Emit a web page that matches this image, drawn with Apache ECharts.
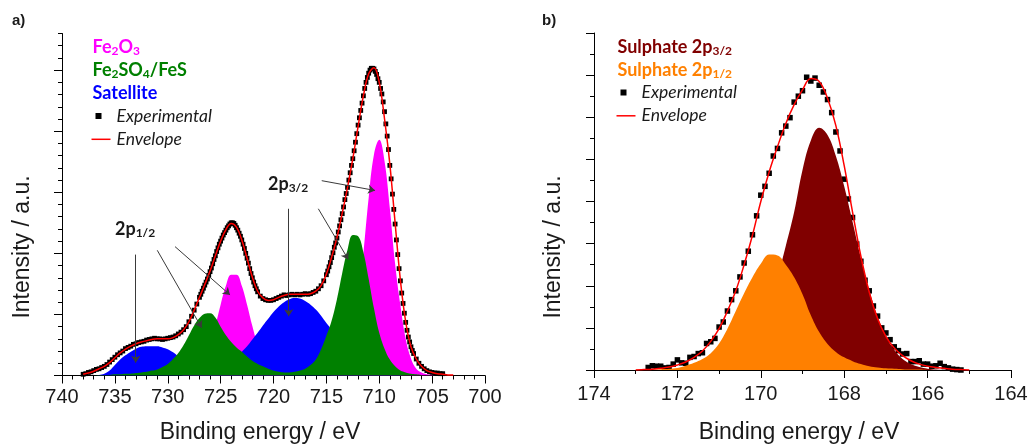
<!DOCTYPE html>
<html>
<head>
<meta charset="utf-8">
<script src="https://cdn.jsdelivr.net/npm/echarts@6.0.0/dist/echarts.min.js"></script>
<style>
    html, body { margin: 0; padding: 0; background: #fff; }
    #chart { width: 1033px; height: 444px; }
</style>
</head>
<body>
<div id="chart"></div>
<script>
    // ---- panel a: Fe 2p, fitted components on a 0.5 eV grid ----
    const energyA = [
        738, 737.5, 737, 736.5, 736, 735.5, 735, 734.5, 734, 733.5,
        733, 732.5, 732, 731.5, 731, 730.5, 730, 729.5, 729, 728.5,
        728, 727.5, 727, 726.5, 726, 725.5, 725, 724.5, 724, 723.5,
        723, 722.5, 722, 721.5, 721, 720.5, 720, 719.5, 719, 718.5,
        718, 717.5, 717, 716.5, 716, 715.5, 715, 714.5, 714, 713.5,
        713, 712.5, 712, 711.5, 711, 710.5, 710, 709.5, 709, 708.5,
        708, 707.5, 707, 706.5, 706, 705.5, 705, 704.5, 704, 703.5,
        703
    ];
    const fe2o3A = [
        0, 0, 0, 0, 0, 0, 0, 0, 0, 0,
        0, 0, 0, 0, 0, 0, 0, 0, 0, 0.01,
        0.02, 0.06, 0.14, 0.28, 0.50, 0.81, 1.16, 1.47, 1.65, 1.65,
        1.47, 1.16, 0.81, 0.50, 0.28, 0.14, 0.07, 0.03, 0.01, 0,
        0, 0, 0, 0, 0, 0, 0, 0.01, 0.03, 0.09,
        0.25, 0.59, 1.18, 2.00, 2.91, 3.62, 3.86, 3.51, 2.74, 1.83,
        1.15, 0.60, 0.28, 0.11, 0.05, 0.02, 0.01, 0, 0, 0,
        0
    ];
    const satelliteA = [
        0, 0, 0, 0.01, 0.03, 0.08, 0.17, 0.26, 0.33, 0.39,
        0.44, 0.47, 0.48, 0.48, 0.48, 0.46, 0.43, 0.38, 0.31, 0.23,
        0.16, 0.12, 0.09, 0.07, 0.07, 0.09, 0.13, 0.17, 0.23, 0.30,
        0.39, 0.48, 0.59, 0.70, 0.82, 0.93, 1.04, 1.13, 1.20, 1.25,
        1.27, 1.26, 1.22, 1.16, 1.08, 0.98, 0.86, 0.75, 0.63, 0.52,
        0.42, 0.33, 0.25, 0.19, 0.14, 0.10, 0.07, 0.05, 0.03, 0.02,
        0.01, 0, 0, 0, 0, 0, 0, 0, 0, 0,
        0
    ];
    const fe2so4A = [
        0, 0, 0, 0.01, 0.01, 0.01, 0.02, 0.02, 0.03, 0.03,
        0.04, 0.05, 0.06, 0.08, 0.10, 0.14, 0.19, 0.27, 0.37, 0.50,
        0.66, 0.82, 0.94, 1.01, 1.02, 0.95, 0.80, 0.66, 0.55, 0.46,
        0.39, 0.31, 0.24, 0.19, 0.15, 0.11, 0.08, 0.06, 0.05, 0.05,
        0.06, 0.08, 0.11, 0.17, 0.26, 0.43, 0.65, 0.90, 1.25, 1.68,
        2.06, 2.30, 2.28, 2.02, 1.58, 1.10, 0.70, 0.44, 0.26, 0.15,
        0.08, 0.05, 0.03, 0.02, 0.01, 0, 0, 0, 0, 0,
        0
    ];
    const envelopeA = [
        0.02, 0.04, 0.07, 0.11, 0.15, 0.21, 0.29, 0.37, 0.43, 0.48,
        0.52, 0.55, 0.57, 0.59, 0.60, 0.60, 0.60, 0.62, 0.67, 0.75,
        0.88, 1.07, 1.28, 1.49, 1.71, 1.96, 2.20, 2.39, 2.49, 2.43,
        2.22, 1.92, 1.61, 1.38, 1.27, 1.23, 1.24, 1.28, 1.31, 1.33,
        1.33, 1.33, 1.33, 1.34, 1.38, 1.47, 1.66, 1.94, 2.26, 2.66,
        3.08, 3.55, 4.08, 4.58, 4.94, 5.04, 4.80, 4.20, 3.46, 2.50,
        1.56, 0.88, 0.47, 0.27, 0.15, 0.08, 0.05, 0.03, 0.02, 0.01,
        0.01
    ];
    // measured points [binding energy, intensity]
    const experimentalA = [
        [738.00, 0.02], [737.75, 0.03], [737.50, 0.05], [737.25, 0.06], [737.00, 0.08],
        [736.75, 0.10], [736.50, 0.11], [736.25, 0.13], [736.00, 0.15], [735.75, 0.18],
        [735.50, 0.22], [735.25, 0.26], [735.00, 0.30], [734.75, 0.34], [734.50, 0.37],
        [734.25, 0.40], [734.00, 0.44], [733.75, 0.46], [733.50, 0.48], [733.25, 0.51],
        [733.00, 0.52], [732.75, 0.54], [732.50, 0.55], [732.25, 0.56], [732.00, 0.58],
        [731.75, 0.59], [731.50, 0.60], [731.25, 0.61], [731.00, 0.60], [730.75, 0.60],
        [730.50, 0.59], [730.25, 0.60], [730.00, 0.61], [729.75, 0.62], [729.50, 0.63],
        [729.25, 0.65], [729.00, 0.68], [728.75, 0.71], [728.50, 0.75], [728.25, 0.80],
        [728.00, 0.88], [727.75, 0.97], [727.50, 1.07], [727.25, 1.17], [727.00, 1.28],
        [726.875, 1.33], [726.75, 1.38], [726.625, 1.43], [726.50, 1.48], [726.375, 1.53],
        [726.25, 1.58], [726.125, 1.64], [726.00, 1.70], [725.875, 1.76], [725.75, 1.83],
        [725.625, 1.90], [725.50, 1.96], [725.375, 2.03], [725.25, 2.09], [725.125, 2.15],
        [725.00, 2.20], [724.875, 2.25], [724.75, 2.30], [724.625, 2.34], [724.50, 2.38],
        [724.375, 2.42], [724.25, 2.45], [724.125, 2.48], [724.00, 2.50], [723.875, 2.50],
        [723.75, 2.49], [723.625, 2.46], [723.50, 2.42], [723.375, 2.38], [723.25, 2.33],
        [723.125, 2.28], [723.00, 2.22], [722.875, 2.15], [722.75, 2.08], [722.625, 2.00],
        [722.50, 1.92], [722.375, 1.84], [722.25, 1.75], [722.125, 1.67], [722.00, 1.60],
        [721.875, 1.53], [721.75, 1.47], [721.625, 1.42], [721.50, 1.37], [721.25, 1.30],
        [721.00, 1.26], [720.75, 1.24], [720.50, 1.23], [720.25, 1.23], [720.00, 1.24],
        [719.75, 1.26], [719.50, 1.28], [719.25, 1.30], [719.00, 1.32], [718.75, 1.31],
        [718.50, 1.32], [718.25, 1.33], [718.00, 1.32], [717.75, 1.33], [717.50, 1.32],
        [717.25, 1.33], [717.00, 1.34], [716.75, 1.33], [716.50, 1.34], [716.25, 1.36],
        [716.00, 1.38], [715.75, 1.42], [715.50, 1.47], [715.25, 1.55], [715.00, 1.65],
        [714.875, 1.71], [714.75, 1.78], [714.625, 1.85], [714.50, 1.93], [714.375, 2.01],
        [714.25, 2.10], [714.125, 2.17], [714.00, 2.25], [713.875, 2.35], [713.75, 2.45],
        [713.625, 2.55], [713.50, 2.65], [713.375, 2.76], [713.25, 2.88], [713.125, 2.98],
        [713.00, 3.08], [712.875, 3.20], [712.75, 3.32], [712.625, 3.44], [712.50, 3.55],
        [712.375, 3.68], [712.25, 3.82], [712.125, 3.96], [712.00, 4.10], [711.875, 4.22],
        [711.75, 4.34], [711.625, 4.46], [711.50, 4.58], [711.375, 4.70], [711.25, 4.80],
        [711.125, 4.88], [711.00, 4.95], [710.875, 5.00], [710.75, 5.03], [710.625, 5.03],
        [710.50, 5.02], [710.375, 4.98], [710.25, 4.93], [710.125, 4.86], [710.00, 4.80],
        [709.875, 4.70], [709.75, 4.61], [709.625, 4.48], [709.50, 4.32], [709.375, 4.12],
        [709.25, 3.92], [709.125, 3.70], [709.00, 3.44], [708.875, 3.22], [708.75, 2.97],
        [708.625, 2.72], [708.50, 2.48], [708.375, 2.22], [708.25, 1.98], [708.125, 1.75],
        [708.00, 1.55], [707.875, 1.35], [707.75, 1.18], [707.625, 1.02], [707.50, 0.87],
        [707.375, 0.74], [707.25, 0.63], [707.125, 0.55], [707.00, 0.47], [706.875, 0.41],
        [706.75, 0.36], [706.50, 0.27], [706.25, 0.20], [706.00, 0.15], [705.75, 0.11],
        [705.50, 0.08], [705.25, 0.06], [705.00, 0.05], [704.75, 0.04], [704.50, 0.04],
        [704.25, 0.03], [704.00, 0.03]
    ];
    const yMajorA = [0, 1, 2, 3, 4, 5];
    // arrows from the 2p labels: [fromE, fromI, toE, toI]
    const arrowsA = [
        [733.03, 1.98, 733.03, 0.21],
        [730.99, 2.05, 726.79, 0.78],
        [729.31, 2.11, 724.11, 1.32],
        [718.56, 2.73, 718.56, 0.97],
        [715.76, 2.73, 712.93, 1.90],
        [715.44, 3.19, 710.40, 3.03]
    ];

    // ---- panel b: S 2p, fitted components on a 0.2 eV grid ----
    const energyB = [
        173, 172.8, 172.6, 172.4, 172.2, 172, 171.8, 171.6, 171.4, 171.2,
        171, 170.8, 170.6, 170.4, 170.2, 170, 169.8, 169.6, 169.4, 169.2,
        169, 168.8, 168.6, 168.4, 168.2, 168, 167.8, 167.6, 167.4, 167.2,
        167, 166.8, 166.6, 166.4, 166.2, 166, 165.8, 165.6, 165.4, 165.2,
        165
    ];
    const sulphate32B = [
        0, 0, 0, 0, 0, 0, 0, 0, 0.01, 0.03,
        0.06, 0.13, 0.24, 0.42, 0.70, 1.10, 1.60, 2.20, 2.95, 3.75,
        4.75, 5.45, 5.75, 5.58, 5.08, 4.36, 3.52, 2.66, 1.90, 1.27,
        0.80, 0.48, 0.26, 0.14, 0.07, 0.03, 0.01, 0, 0, 0,
        0
    ];
    const sulphate12B = [
        0, 0.01, 0.01, 0.02, 0.03, 0.05, 0.10, 0.17, 0.26, 0.40,
        0.63, 0.98, 1.40, 1.82, 2.20, 2.52, 2.74, 2.72, 2.50, 2.20,
        1.80, 1.30, 0.90, 0.62, 0.43, 0.30, 0.21, 0.14, 0.09, 0.06,
        0.04, 0.03, 0.02, 0.01, 0.01, 0, 0, 0, 0, 0,
        0
    ];
    const envelopeB = [
        0, 0.01, 0.02, 0.04, 0.07, 0.12, 0.19, 0.30, 0.45, 0.68,
        0.98, 1.40, 1.88, 2.50, 3.20, 4.00, 4.70, 5.30, 5.85, 6.30,
        6.65, 6.92, 6.85, 6.45, 5.80, 4.85, 3.75, 2.70, 1.85, 1.22,
        0.80, 0.52, 0.34, 0.22, 0.14, 0.09, 0.06, 0.04, 0.02, 0.01,
        0
    ];
    const experimentalB = [
        [172.7, 0.06], [172.6, 0.10], [172.5, 0.09], [172.4, 0.09], [172.3, 0.05],
        [172.2, 0.06], [172.1, 0.14], [172.0, 0.24], [171.9, 0.17], [171.8, 0.16],
        [171.7, 0.30], [171.6, 0.32], [171.5, 0.39], [171.4, 0.41], [171.3, 0.63],
        [171.2, 0.67], [171.1, 0.75], [171.0, 1.02], [170.9, 1.14], [170.8, 1.40],
        [170.7, 1.67], [170.6, 1.88], [170.5, 2.21], [170.4, 2.54], [170.3, 2.82],
        [170.2, 3.21], [170.1, 3.66], [170.0, 4.15], [169.9, 4.36], [169.8, 4.67],
        [169.7, 5.08], [169.6, 5.26], [169.5, 5.63], [169.4, 5.79], [169.3, 5.99],
        [169.2, 6.36], [169.1, 6.50], [169.0, 6.63], [168.9, 6.95], [168.8, 6.86],
        [168.7, 6.93], [168.6, 6.76], [168.5, 6.60], [168.4, 6.42], [168.3, 6.11],
        [168.2, 5.65], [168.1, 5.20], [168.0, 4.53], [167.9, 4.06], [167.8, 3.62],
        [167.7, 2.99], [167.6, 2.58], [167.5, 2.13], [167.4, 1.88], [167.3, 1.52],
        [167.2, 1.28], [167.1, 1.00], [167.0, 0.88], [166.9, 0.72], [166.8, 0.55],
        [166.7, 0.46], [166.6, 0.38], [166.5, 0.39], [166.4, 0.20], [166.3, 0.20],
        [166.2, 0.22], [166.1, 0.14], [166.0, 0.14], [165.9, 0.09], [165.8, 0.10],
        [165.7, 0.16], [165.6, 0.08], [165.5, 0.05], [165.4, 0.02], [165.3, 0.01],
        [165.2, 0.00]
    ];

    const AXIS = '#000';
    const TEXT = '#1a1a1a';
    const SANS = 'Liberation Sans';
    const CAL = 'Lato';

    function zip(xs, ys) {
        return xs.map((x, i) => [x, ys[i]]);
    }

    function band(name, color, idx, yIdx, xs, ys) {
        return {
            name: name, type: 'line', xAxisIndex: idx, yAxisIndex: yIdx,
            data: zip(xs, ys), smooth: 0.4,
            symbol: 'none', silent: true,
            lineStyle: {width: 0}, itemStyle: {color: color},
            areaStyle: {color: color, opacity: 1}
        };
    }

    function envelope(idx, yIdx, xs, ys) {
        return {
            name: 'Envelope', type: 'line', xAxisIndex: idx, yAxisIndex: yIdx,
            data: zip(xs, ys), smooth: 0.4,
            symbol: 'none', silent: true,
            lineStyle: {color: '#ff0000', width: 1.5}
        };
    }

    function xAxis(grid, min, max, interval, minor, margin) {
        return {
            gridIndex: grid, type: 'value', min: min, max: max, interval: interval, inverse: true,
            axisLine: {onZero: false, lineStyle: {color: AXIS, width: 1}},
            axisTick: {length: 8, lineStyle: {color: AXIS}},
            minorTick: {show: true, splitNumber: minor, length: 4, lineStyle: {color: AXIS}},
            axisLabel: {fontSize: 20, fontFamily: SANS, color: TEXT, margin: margin},
            splitLine: {show: false}, minorSplitLine: {show: false}
        };
    }

    // legend / annotation text with sub-scripts
    const rich = {
        n: {fontFamily: CAL, fontWeight: 'bold', fontSize: 18},
        s: {fontFamily: CAL, fontWeight: 'bold', fontSize: 12, padding: [9, 0, 0, 0]}
    };

    function richText(x, y, text, color) {
        return {
            type: 'text', x: x, y: y, silent: true,
            style: {text: text, rich: rich, fill: color, textAlign: 'left', textVerticalAlign: 'middle'}
        };
    }

    function plainText(x, y, text, font, align, rot) {
        return {
            type: 'text', x: x, y: y, rotation: rot || 0, silent: true,
            style: {text: text, font: font, fill: TEXT, textAlign: align, textVerticalAlign: 'middle'}
        };
    }

    function keyItems(x, y) {
        return [
            {type: 'rect', silent: true, shape: {x: x + 1, y: y - 3, width: 6, height: 6}, style: {fill: '#000'}},
            plainText(x + 22, y, 'Experimental', 'italic 17.5px ' + CAL, 'left'),
            {type: 'line', silent: true, shape: {x1: x - 3, y1: y + 23.3, x2: x + 16, y2: y + 23.3},
                style: {stroke: '#ff0000', lineWidth: 1.5}},
            plainText(x + 22, y + 23.3, 'Envelope', 'italic 17.5px ' + CAL, 'left')
        ];
    }

    const chart = echarts.init(document.getElementById('chart'), null, {renderer: 'canvas'});

    chart.setOption({
        animation: false,
        backgroundColor: '#fff',
        grid: [
            {left: 62, top: 33.5, width: 423, height: 342},
            {left: 594, top: 33, width: 417, height: 337}
        ],
        xAxis: [
            xAxis(0, 700, 740, 5, 5, 12),
            xAxis(1, 164, 174, 2, 2, 14)
        ],
        yAxis: [
            {
                gridIndex: 0, type: 'value', min: 0, max: 5.6, interval: 0.2,
                axisLine: {show: true, lineStyle: {color: AXIS, width: 1}},
                axisTick: {show: true, length: 4, lineStyle: {color: AXIS}},
                axisLabel: {show: false}, splitLine: {show: false}
            },
            {
                gridIndex: 0, type: 'value', min: 0, max: 5.6, position: 'left', offset: 0,
                axisLine: {show: false},
                axisTick: {show: true, length: 8, customValues: yMajorA, lineStyle: {color: AXIS}},
                axisLabel: {show: false}, splitLine: {show: false}
            },
            {
                gridIndex: 1, type: 'value', min: 0, max: 8, interval: 1,
                axisLine: {show: true, lineStyle: {color: AXIS, width: 1}},
                axisTick: {show: true, length: 8, lineStyle: {color: AXIS}},
                minorTick: {show: true, splitNumber: 2, length: 4, lineStyle: {color: AXIS}},
                axisLabel: {show: false}, splitLine: {show: false}, minorSplitLine: {show: false}
            }
        ],
        series: [
            band('Fe2O3', '#ff00ff', 0, 0, energyA, fe2o3A),
            band('Satellite', '#0000ff', 0, 0, energyA, satelliteA),
            band('Fe2SO4/FeS', '#008000', 0, 0, energyA, fe2so4A),
            envelope(0, 0, energyA, envelopeA),
            {
                name: 'Experimental', type: 'scatter', xAxisIndex: 0, yAxisIndex: 0,
                data: experimentalA, symbol: 'rect', symbolSize: 4.8, silent: true,
                itemStyle: {color: '#000', opacity: 1},
                markLine: {
                    silent: true, symbol: ['none', 'arrow'], symbolSize: 7,
                    label: {show: false},
                    lineStyle: {color: '#3a3a3a', width: 1, type: 'solid'},
                    data: arrowsA.map(a => [{coord: [a[0], a[1]]}, {coord: [a[2], a[3]]}])
                }
            },
            band('Sulphate 2p3/2', '#800000', 1, 2, energyB, sulphate32B),
            band('Sulphate 2p1/2', '#ff8000', 1, 2, energyB, sulphate12B),
            envelope(1, 2, energyB, envelopeB),
            {
                name: 'Experimental', type: 'scatter', xAxisIndex: 1, yAxisIndex: 2,
                data: experimentalB, symbol: 'rect', symbolSize: 5.5, silent: true,
                itemStyle: {color: '#000', opacity: 1}
            }
        ],
        graphic: [
            plainText(12, 21, 'a)', 'bold 15px ' + SANS, 'left'),
            plainText(542, 21, 'b)', 'bold 15px ' + SANS, 'left'),
            plainText(23, 247, 'Intensity / a.u.', '23px ' + SANS, 'center', Math.PI / 2),
            plainText(554, 247, 'Intensity / a.u.', '23px ' + SANS, 'center', Math.PI / 2),
            plainText(260, 433, 'Binding energy / eV', '23px ' + SANS, 'center'),
            plainText(799, 433, 'Binding energy / eV', '23px ' + SANS, 'center'),

            // panel a key
            richText(92.5, 47, '{n|Fe}{s|2}{n|O}{s|3}', '#ff00ff'),
            richText(92.5, 70, '{n|Fe}{s|2}{n|SO}{s|4}{n|/FeS}', '#008000'),
            richText(92.5, 93, '{n|Satellite}', '#0000ff'),
            ...keyItems(94.5, 116),

            // panel b key
            richText(617.5, 47, '{n|Sulphate 2p}{s|3/2}', '#800000'),
            richText(617.5, 70, '{n|Sulphate 2p}{s|1/2}', '#ff8000'),
            ...keyItems(619.5, 92.5),

            // peak labels
            richText(115, 229, '{n|2p}{s|1/2}', TEXT),
            richText(268, 184, '{n|2p}{s|3/2}', TEXT)
        ]
    });
</script>
</body>
</html>
